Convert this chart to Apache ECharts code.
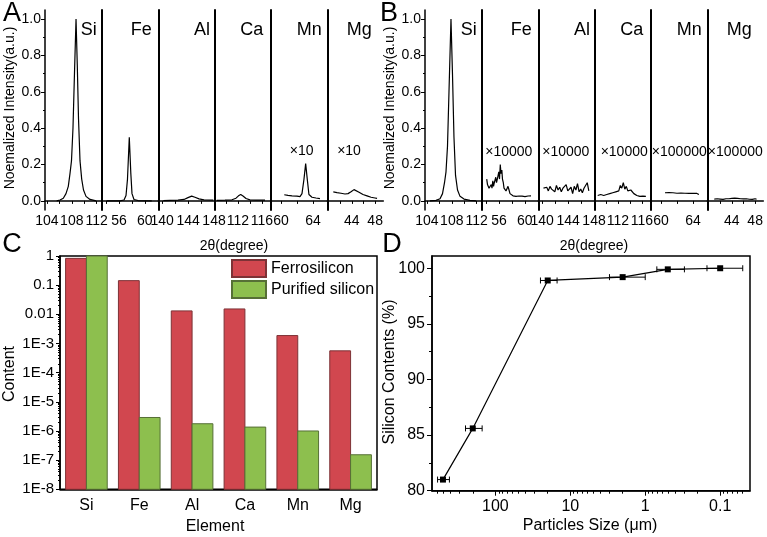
<!DOCTYPE html>
<html><head><meta charset="utf-8">
<script src="https://cdn.jsdelivr.net/npm/echarts@6.0.0/dist/echarts.min.js"></script>
<style>html,body{margin:0;padding:0;background:#fff}#main{width:767px;height:537px}</style>
</head><body><div id="main"></div>
<script>
// ---------------- DATA ----------------
const elements = ['Si','Fe','Al','Ca','Mn','Mg'];
const xRanges = [[103.7,112.8],[53.3,62.1],[139.4,148.15],[108.2,117.5],[58.75,65.8],[39.8,49.4]];
const xTicks = [[104,106,108,110,112],[54,56,58,60],[140,142,144,146,148],[110,112,114,116],[60,62,64],[40,42,44,46,48]];
const xTickLabels = [[104,108,112],[56,60],[140,144,148],[112,116],[60,64],[44,48]];
const yTickLabels = [0,0.2,0.4,0.6,0.8,1.0];
const yMinorTicks = [0.1,0.3,0.5,0.7,0.9];
const scaleA = ['','','','','×10','×10'];
const scaleB = ['','×10000','×10000','×10000','×100000','×100000'];

// Panel A spectra (ferrosilicon)
const aSi = [[105.58,0],[106.11,0.005],[106.64,0.015],[107.07,0.04],[107.44,0.08],[107.71,0.15],[107.95,0.22],[108.19,0.4],[108.43,0.7],[108.68,1.0],[108.88,0.75],[109.08,0.45],[109.32,0.22],[109.59,0.12],[109.88,0.06],[110.28,0.025],[110.92,0.008],[111.89,0]];
const aFe = [[54.08,0],[56.15,0],[56.77,0.005],[57.08,0.03],[57.31,0.12],[57.59,0.35],[57.83,0.15],[58.01,0.04],[58.32,0.008],[58.95,0.002],[61.08,0]];
const aAl = [[140.17,0.002],[141.21,0.003],[142.44,0.004],[143.37,0.008],[143.98,0.018],[144.55,0.026],[145.06,0.02],[145.68,0.011],[146.45,0.006],[147.89,0.004]];
const aCa = [[108.48,0.003],[109.86,0.004],[111.02,0.006],[111.69,0.015],[112.1,0.028],[112.47,0.035],[112.85,0.027],[113.35,0.013],[114.01,0.006],[115.01,0.004],[116.51,0.004]];
const aMn = [[60.41,0.034],[60.88,0.03],[61.38,0.028],[62.0,0.026],[62.38,0.024],[62.63,0.04],[62.88,0.12],[63.09,0.205],[63.29,0.12],[63.5,0.035],[63.88,0.02],[64.38,0.016],[64.88,0.013]];
const aMg = [[40.83,0.05],[41.46,0.046],[42.15,0.042],[42.84,0.038],[43.35,0.04],[43.87,0.05],[44.38,0.062],[44.72,0.06],[45.24,0.048],[45.92,0.035],[46.61,0.028],[47.3,0.02],[47.98,0.016],[48.33,0.014]];

// Panel B spectra (purified silicon)
const bSi = [[104.5,0],[105.47,0.003],[106.11,0.012],[106.51,0.04],[106.83,0.1],[107.07,0.16],[107.31,0.3],[107.55,0.6],[107.87,1.0],[108.11,0.7],[108.35,0.35],[108.6,0.14],[108.92,0.06],[109.32,0.025],[109.96,0.01],[110.92,0.003],[111.89,0]];
const bFe = [[54.08,0.12],[54.2,0.09],[54.33,0.1],[54.44,0.07],[54.56,0.08],[54.67,0.06],[54.79,0.09],[54.9,0.07],[55.03,0.11],[55.14,0.08],[55.26,0.1],[55.37,0.09],[55.49,0.13],[55.6,0.1],[55.73,0.12],[55.83,0.11],[55.96,0.16],[56.07,0.12],[56.19,0.2],[56.3,0.15],[56.43,0.17],[56.53,0.12],[56.66,0.1],[56.77,0.07],[56.92,0.06],[57.08,0.055],[57.23,0.065],[57.39,0.08],[57.55,0.06],[57.7,0.04],[57.93,0.03],[58.17,0.028],[58.4,0.03],[58.63,0.025],[58.87,0.03],[59.1,0.027],[59.33,0.032],[59.57,0.026],[59.8,0.03],[60.03,0.024],[60.27,0.031],[60.5,0.027],[60.73,0.033],[60.97,0.028]];
const bAlX = [140.2,140.45,140.7,140.95,141.2,141.45,141.7,141.95,142.2,142.45,142.7,142.95,143.2,143.45,143.7,143.95,144.2,144.45,144.7,144.95,145.2,145.45,145.7,145.95,146.2,146.45,146.7,146.95,147.2];
const bAlY = [0.07,0.06,0.075,0.055,0.08,0.065,0.07,0.05,0.085,0.06,0.075,0.05,0.07,0.065,0.09,0.055,0.06,0.075,0.04,0.08,0.06,0.095,0.05,0.065,0.045,0.07,0.06,0.1,0.055];
const bCaX = [108.65,108.9,109.15,109.4,109.65,109.9,110.15,110.4,110.65,110.9,111.15,111.4,111.65,111.9,112.15,112.4,112.65,112.9,113.15,113.4,113.65,113.9,114.15,114.4,114.65,114.9,115.15,115.4,115.65,115.9,116.15,116.4,116.65];
const bCaY = [0.03,0.025,0.035,0.028,0.03,0.022,0.035,0.03,0.04,0.032,0.045,0.038,0.05,0.06,0.055,0.085,0.07,0.1,0.065,0.08,0.055,0.045,0.06,0.05,0.04,0.035,0.03,0.028,0.025,0.03,0.026,0.024,0.025];
const bMnX = [60.5,60.75,61,61.25,61.5,61.75,62,62.25,62.5,62.75,63,63.25,63.5,63.75,64,64.25,64.5,64.75];
const bMnY = [0.045,0.044,0.046,0.043,0.045,0.044,0.042,0.044,0.043,0.045,0.042,0.043,0.041,0.043,0.042,0.04,0.041,0.035];
const bMgX = [41,41.25,41.5,41.75,42,42.25,42.5,42.75,43,43.25,43.5,43.75,44,44.25,44.5,44.75,45,45.25,45.5,45.75,46,46.25,46.5,46.75,47,47.25,47.5,47.75,48,48.25];
const bMgY = [0.01,0.008,0.012,0.009,0.01,0.011,0.008,0.013,0.012,0.015,0.012,0.018,0.014,0.02,0.015,0.012,0.014,0.01,0.012,0.009,0.011,0.008,0.012,0.01,0.009,0.011,0.008,0.01,0.012,0.009];

// Panel C
const elementsC = ['Si','Fe','Al','Ca','Mn','Mg'];
const ferrosilicon = [0.83, 0.143, 0.0131, 0.0153, 1.87e-3, 5.6e-4];
const purifiedSilicon = [0.9999, 2.9e-6, 1.77e-6, 1.36e-6, 1.0e-6, 1.53e-7];
const cTicks = [1e-8,1e-7,1e-6,1e-5,1e-4,1e-3,0.01,0.1,1];
const cTickLabels = ['1E-8','1E-7','1E-6','1E-5','1E-4','1E-3','0.01','0.1','1'];

// Panel D
const particleSize = [500, 200, 20, 2, 0.5, 0.1];
const siliconContent = [81.0, 85.6, 98.9, 99.2, 99.9, 100.0];
const sizeErr = [90, 50, 5, 1, 0.2, 0.05];
const dXTicks = [100, 10, 1, 0.1];
const dYTicks = [80, 85, 90, 95, 100];
const dYMinor = [82.5, 87.5, 92.5, 97.5];

// ---------------- BUILD ----------------
const zip = (xs, ys) => xs.map((x, i) => [x, ys[i]]);
const specA = [aSi, aFe, aAl, aCa, aMn, aMg];
const specB = [bSi, bFe, zip(bAlX, bAlY), zip(bCaX, bCaY), zip(bMnX, bMnY), zip(bMgX, bMgY)];

const FF = '"Liberation Sans", Arial, sans-serif';
const K = '#000';
const grid = [], xAxis = [], yAxis = [], series = [], graphic = [];

function txt(text, x, y, size, opts) {
  opts = opts || {};
  graphic.push({type: 'text', x: x, y: y, rotation: opts.rot || 0, silent: true,
    style: {text: text, fill: K, font: size + 'px ' + FF, align: opts.align || 'center', verticalAlign: 'middle'}});
}

const subEdges = [45, 101.7, 158.3, 215, 271, 327.3, 383.3];
const elemLabelRight = [96.7, 151.7, 210, 263.3, 321.7, 371.7];
const panels = [
  {off: 0, spec: specA, scl: scaleA, sclX: [0,0,0,0,301.7,349], sclY: 151},
  {off: 380, spec: specB, scl: scaleB, sclX: [0,508.8,565.8,624.2,679.3,735.3], sclY: 152.5}
];
panels.forEach(function (P) {
  for (let i = 0; i < 6; i++) {
    const g = grid.length;
    grid.push({left: P.off + subEdges[i], top: 10, width: subEdges[i + 1] - subEdges[i], height: 200});
    const xi = xAxis.length;
    xAxis.push({type: 'value', gridIndex: g, min: xRanges[i][0], max: xRanges[i][1], position: 'bottom',
      axisLine: {show: true, lineStyle: {color: K, width: 1.5}},
      axisTick: {show: true, customValues: xTicks[i], length: 3, lineStyle: {color: K, width: 1}},
      axisLabel: {show: true, customValues: xTickLabels[i], fontSize: 14, color: K, margin: 4, fontFamily: FF},
      splitLine: {show: false}});
    const yi = yAxis.length;
    if (i === 0) {
      yAxis.push({type: 'value', gridIndex: g, min: -0.05, max: 1.05, position: 'left',
        axisLine: {show: true, lineStyle: {color: K, width: 1.5}},
        axisTick: {show: true, customValues: yTickLabels, length: 4, lineStyle: {color: K, width: 1}},
        axisLabel: {show: true, customValues: yTickLabels, formatter: v => Number(v).toFixed(1), fontSize: 14, color: K, margin: 4, fontFamily: FF},
        splitLine: {show: false}});
      yAxis.push({type: 'value', gridIndex: g, min: -0.05, max: 1.05, position: 'left',
        axisLine: {show: false}, axisTick: {show: true, customValues: yMinorTicks, length: 2, lineStyle: {color: K, width: 1}},
        axisLabel: {show: false}, splitLine: {show: false}});
    } else {
      yAxis.push({type: 'value', gridIndex: g, min: -0.05, max: 1.05, position: 'left',
        axisLine: {show: true, lineStyle: {color: K, width: 2}}, axisTick: {show: false},
        axisLabel: {show: false}, splitLine: {show: false}});
    }
    series.push({type: 'line', xAxisIndex: xi, yAxisIndex: yi, data: P.spec[i], showSymbol: false,
      lineStyle: {color: K, width: 1.2}, itemStyle: {color: K}, animation: false, silent: true});
    txt(elements[i], P.off + elemLabelRight[i], 30, 18, {align: 'right'});
    if (P.scl[i]) txt(P.scl[i], P.sclX[i], P.sclY, 14);
  }
});

// ---- Panel C ----
const gC = grid.length;
grid.push({left: 60, top: 256, width: 317, height: 233.3, show: true, borderColor: K, borderWidth: 1.5, backgroundColor: 'transparent'});
const xC = xAxis.length;
xAxis.push({type: 'category', gridIndex: gC, data: elementsC, position: 'bottom',
  axisLine: {show: true, lineStyle: {color: K, width: 1.5}}, axisTick: {show: false},
  axisLabel: {fontSize: 16, color: K, margin: 8, fontFamily: FF}, splitLine: {show: false}});
const yC = yAxis.length;
yAxis.push({type: 'log', logBase: 10, gridIndex: gC, min: 1e-8, max: 1, position: 'left',
  axisLine: {show: true, lineStyle: {color: K, width: 1.5}},
  axisTick: {show: true, customValues: cTicks, length: 4, lineStyle: {color: K, width: 1}},
  axisLabel: {customValues: cTicks, fontSize: 15, color: K, margin: 6, fontFamily: FF,
    formatter: v => cTickLabels[Math.round(Math.log10(v)) + 8]},
  splitLine: {show: false}});
const cMinor = [];
for (let e = -8; e < 0; e++) for (let k = 2; k <= 9; k++) cMinor.push(k * Math.pow(10, e));
yAxis.push({type: 'log', logBase: 10, gridIndex: gC, min: 1e-8, max: 1, position: 'left',
  axisLine: {show: false}, axisTick: {show: true, customValues: cMinor, length: 2, lineStyle: {color: K, width: 1}},
  axisLabel: {show: false}, splitLine: {show: false}});

function barRender(side) {
  return function (params, api) {
    const cat = api.value(0), v = api.value(1);
    const top = api.coord([cat, v]);
    const base = api.coord([cat, 1e-8]);
    const band = api.coord([1, 1])[0] - api.coord([0, 1])[0];
    const w = band * 0.394;
    const x = side < 0 ? top[0] - w : top[0];
    return {type: 'rect', shape: {x: x, y: top[1], width: w, height: base[1] - top[1]},
      style: api.style()};
  };
}
const RED = '#d1474f', GREEN = '#8dbf4e';
series.push({type: 'custom', name: 'Ferrosilicon', xAxisIndex: xC, yAxisIndex: yC,
  data: ferrosilicon.map((v, i) => [i, v]), encode: {x: 0, y: 1}, renderItem: barRender(-1),
  itemStyle: {color: RED, borderColor: '#7d3236', borderWidth: 1}, animation: false, silent: true});
series.push({type: 'custom', name: 'Purified silicon', xAxisIndex: xC, yAxisIndex: yC,
  data: purifiedSilicon.map((v, i) => [i, v]), encode: {x: 0, y: 1}, renderItem: barRender(1),
  itemStyle: {color: GREEN, borderColor: '#566f36', borderWidth: 1}, animation: false, silent: true});

// ---- Panel D ----
const gD = grid.length;
grid.push({left: 432, top: 256, width: 318, height: 234.7, show: true, borderColor: K, borderWidth: 1.5, backgroundColor: 'transparent'});
const xD = xAxis.length;
xAxis.push({type: 'log', logBase: 10, gridIndex: gD, min: 0.04, max: 700, inverse: true, position: 'bottom',
  axisLine: {show: true, lineStyle: {color: K, width: 1.5}},
  axisTick: {show: true, customValues: dXTicks, length: 5, lineStyle: {color: K, width: 1}},
  axisLabel: {customValues: dXTicks, fontSize: 16, color: K, margin: 8, fontFamily: FF, formatter: v => String(+Number(v).toPrecision(3))},
  splitLine: {show: false}});
const dMinor = [];
[0.01, 0.1, 1, 10, 100].forEach(d => { for (let k = 2; k <= 9; k++) { const t = k * d; if (t > 0.04 && t < 700) dMinor.push(t); } });
xAxis.push({type: 'log', logBase: 10, gridIndex: gD, min: 0.04, max: 700, inverse: true, position: 'bottom',
  axisLine: {show: false}, axisTick: {show: true, customValues: dMinor, length: 3, lineStyle: {color: K, width: 1}},
  axisLabel: {show: false}, splitLine: {show: false}});
const yD = yAxis.length;
yAxis.push({type: 'value', gridIndex: gD, min: 80, max: 101.1, position: 'left',
  axisLine: {show: true, lineStyle: {color: K, width: 1.5}},
  axisTick: {show: true, customValues: dYTicks, length: 5, lineStyle: {color: K, width: 1}},
  axisLabel: {customValues: dYTicks, fontSize: 16, color: K, margin: 7, fontFamily: FF},
  splitLine: {show: false}});
yAxis.push({type: 'value', gridIndex: gD, min: 80, max: 101.1, position: 'left',
  axisLine: {show: false}, axisTick: {show: true, customValues: dYMinor, length: 3, lineStyle: {color: K, width: 1}},
  axisLabel: {show: false}, splitLine: {show: false}});

series.push({type: 'custom', xAxisIndex: xD, yAxisIndex: yD, silent: true, animation: false,
  data: particleSize.map((s, i) => [s, siliconContent[i], sizeErr[i]]), encode: {x: 0, y: 1},
  renderItem: function (params, api) {
    const x = api.value(0), y = api.value(1), e = api.value(2);
    const p1 = api.coord([x + e, y]), p2 = api.coord([x - e, y]);
    const st = {stroke: K, lineWidth: 1};
    return {type: 'group', children: [
      {type: 'line', shape: {x1: p1[0], y1: p1[1], x2: p2[0], y2: p2[1]}, style: st},
      {type: 'line', shape: {x1: p1[0], y1: p1[1] - 3, x2: p1[0], y2: p1[1] + 3}, style: st},
      {type: 'line', shape: {x1: p2[0], y1: p2[1] - 3, x2: p2[0], y2: p2[1] + 3}, style: st}
    ]};
  }});
series.push({type: 'line', xAxisIndex: xD, yAxisIndex: yD, data: particleSize.map((s, i) => [s, siliconContent[i]]),
  symbol: 'rect', symbolSize: 6, showSymbol: true, lineStyle: {color: K, width: 1.2}, itemStyle: {color: K},
  animation: false, silent: true, z: 5});

// ---- texts ----
txt('A', 12, 14, 27); txt('B', 389, 14, 27); txt('C', 12, 245, 27); txt('D', 392, 245, 27);
txt('Noemalized Intensity(a.u.)', 10, 108, 14, {rot: Math.PI / 2});
txt('Noemalized Intensity(a.u.)', 390, 108, 14, {rot: Math.PI / 2});
txt('2θ(degree)', 234, 246, 14);
txt('2θ(degree)', 594, 246, 14);
txt('Content', 10, 374, 16, {rot: Math.PI / 2});
txt('Element', 215, 527, 16);
txt('Silicon Contents (%)', 390, 372, 16, {rot: Math.PI / 2});
txt('Particles Size (μm)', 590, 526, 16);

const chart = echarts.init(document.getElementById('main'), null, {renderer: 'canvas'});
chart.setOption({
  backgroundColor: '#fff',
  animation: false,
  textStyle: {fontFamily: FF},
  grid: grid, xAxis: xAxis, yAxis: yAxis, series: series,
  legend: {data: ['Ferrosilicon', 'Purified silicon'], left: 231, top: 259, orient: 'vertical', padding: 0,
    itemWidth: 34, itemHeight: 17, itemGap: 2, icon: 'rect', selectedMode: false,
    textStyle: {fontSize: 16, color: K, fontFamily: FF}},
  graphic: graphic
});
</script></body></html>
